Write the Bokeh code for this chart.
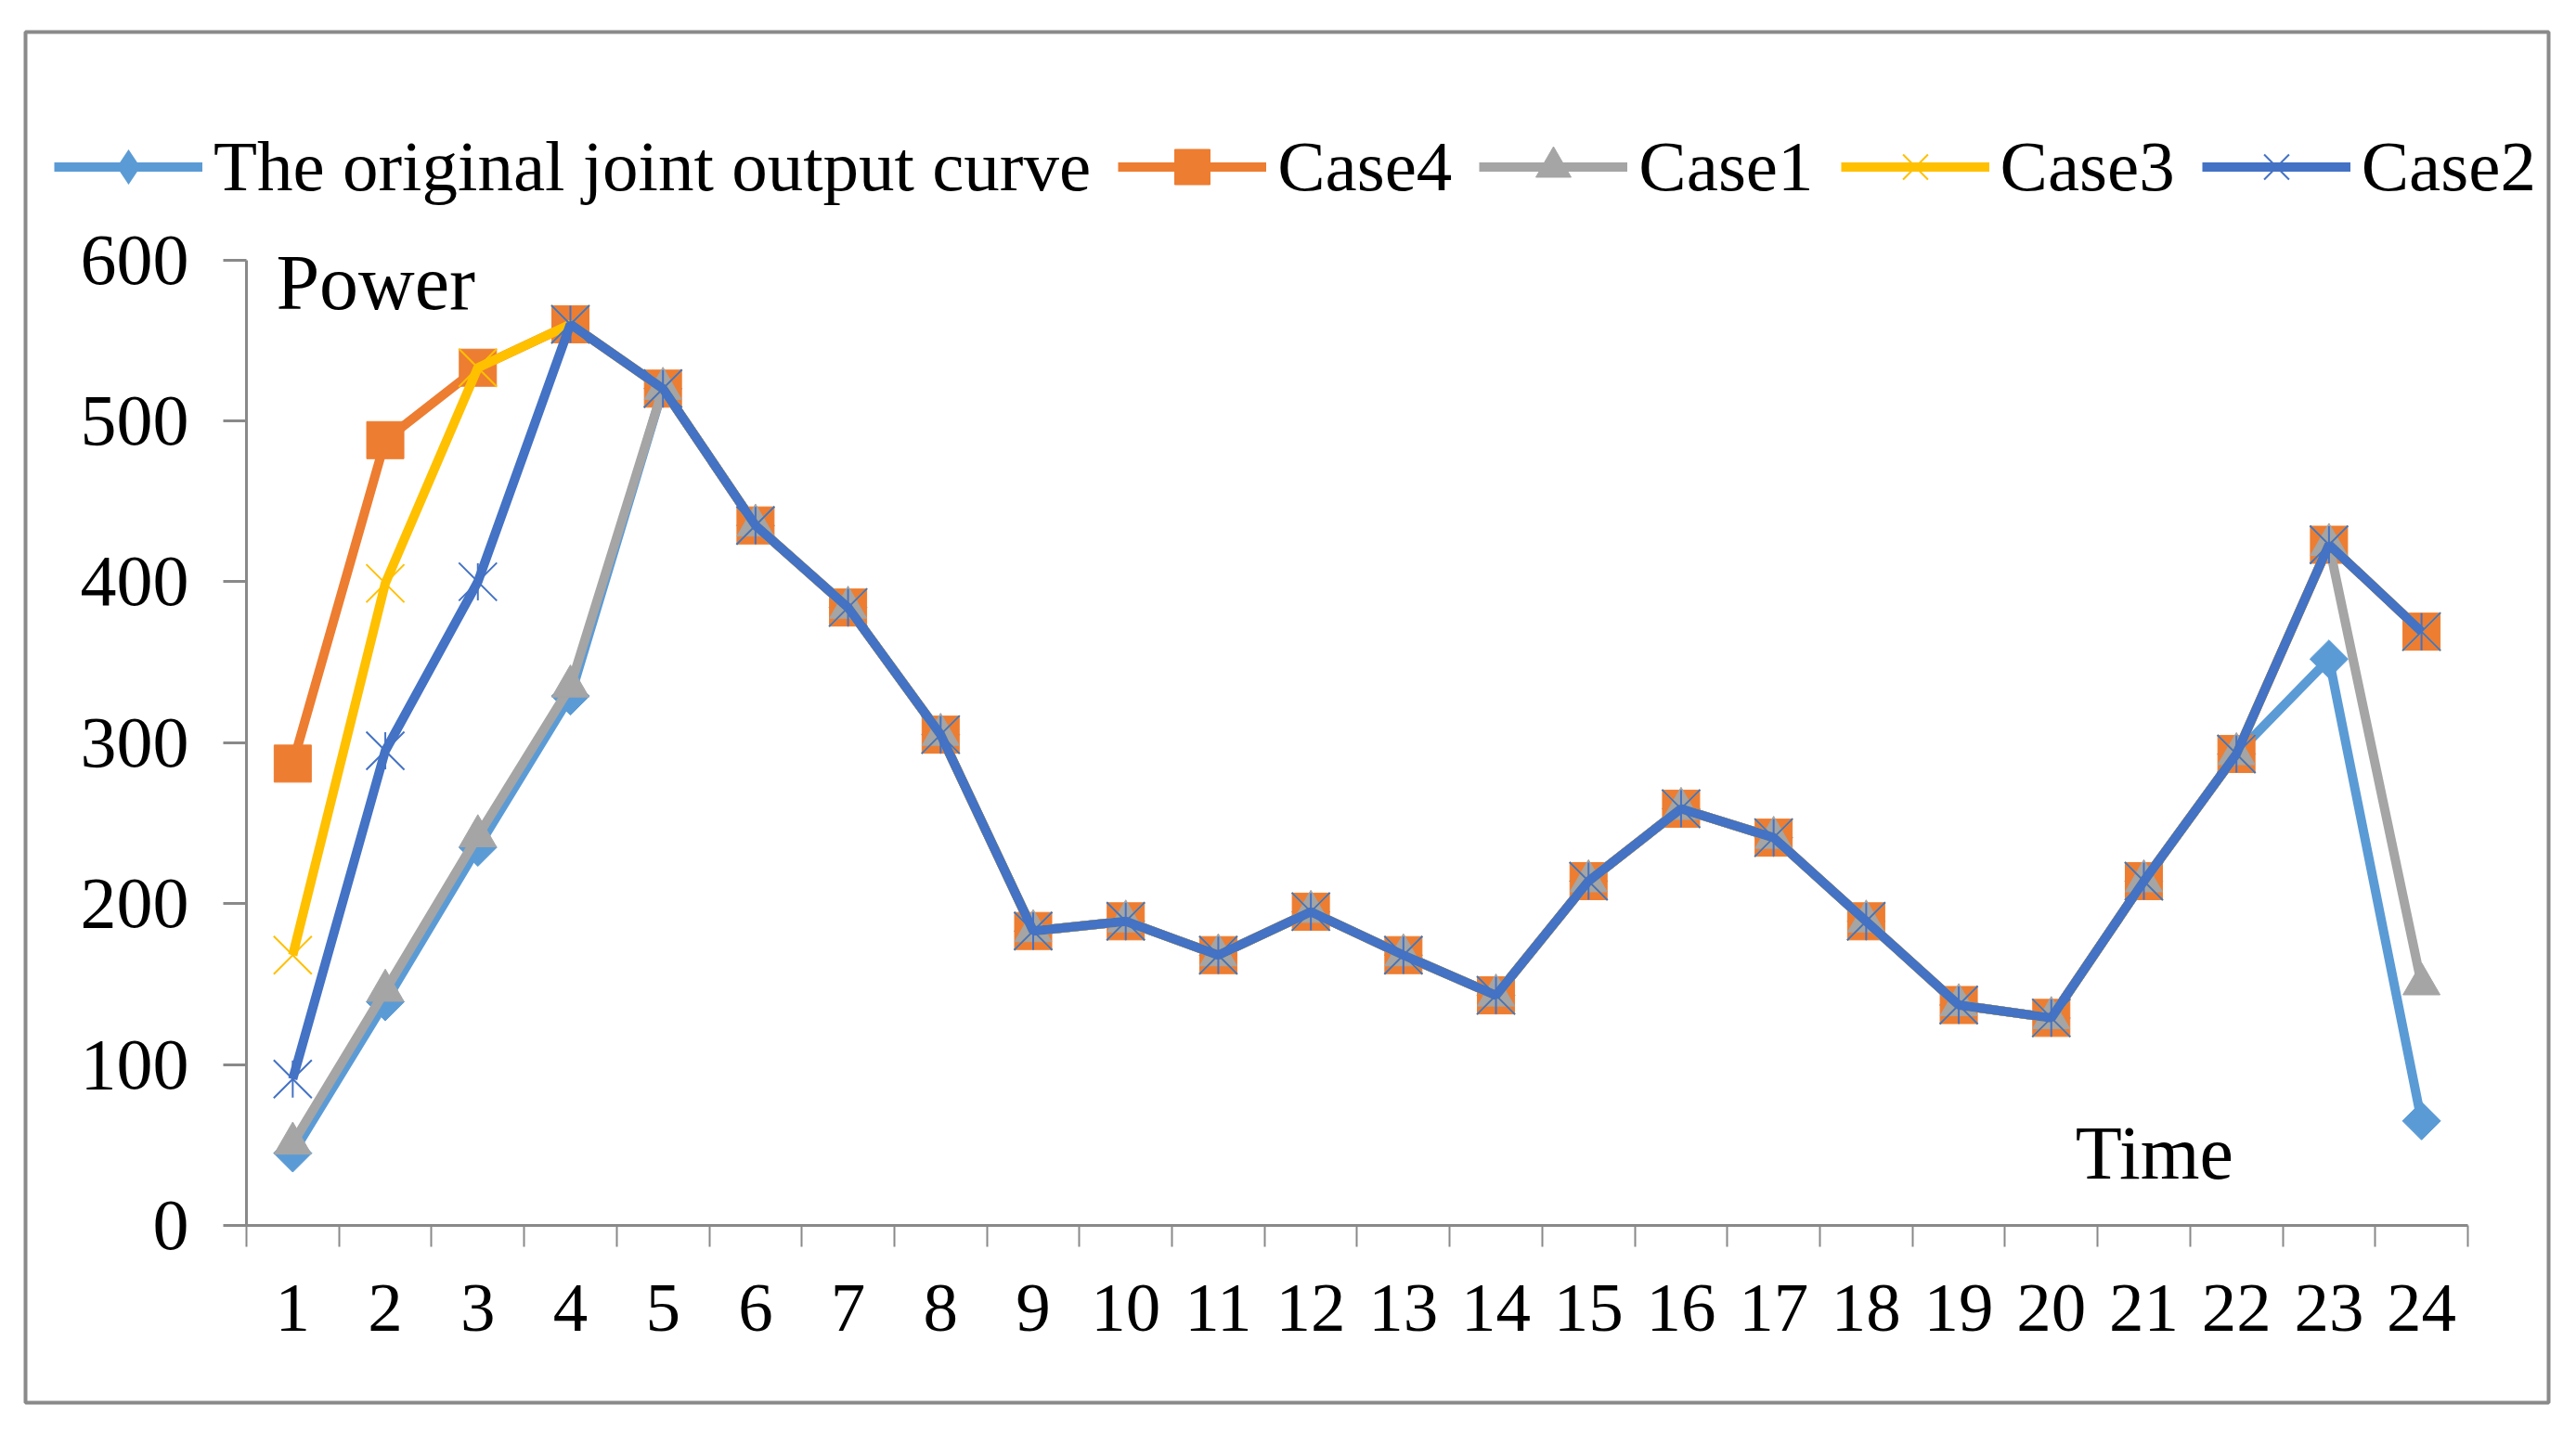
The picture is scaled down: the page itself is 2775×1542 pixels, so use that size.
import math
from bokeh.plotting import figure
from bokeh.models import Range1d, FixedTicker, Legend, LegendItem, Label
from bokeh.embed import file_html
from bokeh.resources import INLINE

# ---- data ----
hours = [1, 2, 3, 4, 5, 6, 7, 8, 9, 10, 11, 12, 13, 14, 15, 16, 17, 18, 19, 20, 21, 22, 23, 24]
y_ticks = [0, 100, 200, 300, 400, 500, 600]

original = [45, 139, 235, 329, 520, 435, 384, 305, 183, 189, 168, 195, 168, 143, 214, 259,
            241, 189, 137, 129, 214, 293, 352, 65]
case4 = [287, 488, 533, 560, 520, 435, 384, 305, 183, 189, 168, 195, 168, 143, 214, 259,
         241, 189, 137, 129, 214, 293, 423, 369]
case1 = [51, 146, 242, 335, 520, 435, 384, 305, 183, 189, 168, 195, 168, 143, 214, 259,
         241, 189, 137, 129, 214, 293, 423, 150]
case3 = [168, 399, 533, 560, 520, 435, 384, 305, 183, 189, 168, 195, 168, 143, 214, 259,
         241, 189, 137, 129, 214, 293, 423, 369]
case2 = [91, 295, 400, 560, 520, 435, 384, 305, 183, 189, 168, 195, 168, 143, 214, 259,
         241, 189, 137, 129, 214, 293, 423, 369]

series_names = ["The original joint output curve", "Case4", "Case1", "Case3", "Case2"]

# ---- styles ----
colors = ["#5B9BD5", "#ED7D31", "#A5A5A5", "#FFC000", "#4472C4"]
AXIS_COLOR = "#898989"
FONT = "Liberation Serif"
LW = 10

# The frame is the chart's outer box; the axes sit inside it at fixed locations.
p = figure(width=2755, height=1525, output_backend="svg", toolbar_location=None,
           x_range=Range1d(-1.887, 25.373), y_range=Range1d(-110.1, 741.6),
           min_border_left=27, min_border_right=10, min_border_top=34,
           min_border_bottom=14)
p.grid.visible = False
p.outline_line_color = "#8a8a8a"
p.outline_line_width = 4
p.background_fill_color = "white"
p.border_fill_color = "white"

items = []

# original curve: diamond markers (rotated square in plot, diamond glyph for legend)
c = colors[0]
rl = p.line(hours, original, line_color=c, line_width=LW)
p.scatter(hours, original, marker="square", size=29, angle=math.pi / 4,
          fill_color=c, line_color=c)
rleg = p.scatter(hours, original, marker="diamond", size=0.1, fill_color=c,
                 line_color=None)
items.append(LegendItem(label=series_names[0], renderers=[rl, rleg]))

# Case4: squares
c = colors[1]
rl = p.line(hours, case4, line_color=c, line_width=LW)
rs = p.scatter(hours, case4, marker="square", size=40, fill_color=c, line_color=c)
items.append(LegendItem(label=series_names[1], renderers=[rl, rs]))

# Case1: triangles
c = colors[2]
rl = p.line(hours, case1, line_color=c, line_width=LW)
rs = p.scatter(hours, case1, marker="triangle", size=40, fill_color=c, line_color=c)
items.append(LegendItem(label=series_names[2], renderers=[rl, rs]))

# Case3: x markers
c = colors[3]
rl = p.line(hours, case3, line_color=c, line_width=LW)
rs = p.scatter(hours, case3, marker="x", size=58, line_color=c, line_width=2)
items.append(LegendItem(label=series_names[3], renderers=[rl, rs]))

# Case2: star markers (x with a vertical bar)
c = colors[4]
rl = p.line(hours, case2, line_color=c, line_width=LW)
rs = p.scatter(hours, case2, marker="x", size=58, line_color=c, line_width=2)
p.scatter(hours, case2, marker="dash", size=40, angle=math.pi / 2, line_color=c,
          line_width=2)
items.append(LegendItem(label=series_names[4], renderers=[rl, rs]))

legend = Legend(items=items, orientation="horizontal", location=(31, 1284),
                glyph_width=160, glyph_height=95, label_standoff=12, spacing=29,
                padding=0, margin=0, border_line_color=None,
                background_fill_alpha=0, label_text_font=FONT,
                label_text_font_size="77px", label_text_color="black",
                label_height=95)
p.add_layout(legend)

# x axis
xa = p.xaxis[0]
xa.fixed_location = 0
xa.bounds = (0.5, 24.5)
xa.ticker = FixedTicker(ticks=hours, minor_ticks=[h - 0.5 for h in hours] + [24.5])
xa.axis_line_color = AXIS_COLOR
xa.axis_line_width = 3
xa.major_tick_out = 0
xa.major_tick_in = 0
xa.minor_tick_out = 23
xa.minor_tick_in = 0
xa.minor_tick_line_color = AXIS_COLOR
xa.minor_tick_line_width = 2
xa.major_label_standoff = 41
xa.major_label_text_font = FONT
xa.major_label_text_font_size = "75px"
xa.major_label_text_color = "black"

# y axis
ya = p.yaxis[0]
ya.fixed_location = 0.5
ya.bounds = (0, 600)
ya.ticker = FixedTicker(ticks=y_ticks)
ya.axis_line_color = AXIS_COLOR
ya.axis_line_width = 3
ya.major_tick_out = 25
ya.major_tick_in = 0
ya.minor_tick_out = 0
ya.minor_tick_in = 0
ya.major_tick_line_color = AXIS_COLOR
ya.major_tick_line_width = 3
ya.major_label_standoff = 37
ya.major_label_text_font = FONT
ya.major_label_text_font_size = "78px"
ya.major_label_text_color = "black"

p.add_layout(Label(x=0.82, y=586, text="Power", text_font=FONT, text_font_size="84px",
                   text_baseline="alphabetic", text_color="black"))
p.add_layout(Label(x=20.26, y=45, text="Time", text_font=FONT, text_font_size="82px",
                   text_baseline="alphabetic", text_color="black"))

open("out.html", "w").write(file_html(p, INLINE))
